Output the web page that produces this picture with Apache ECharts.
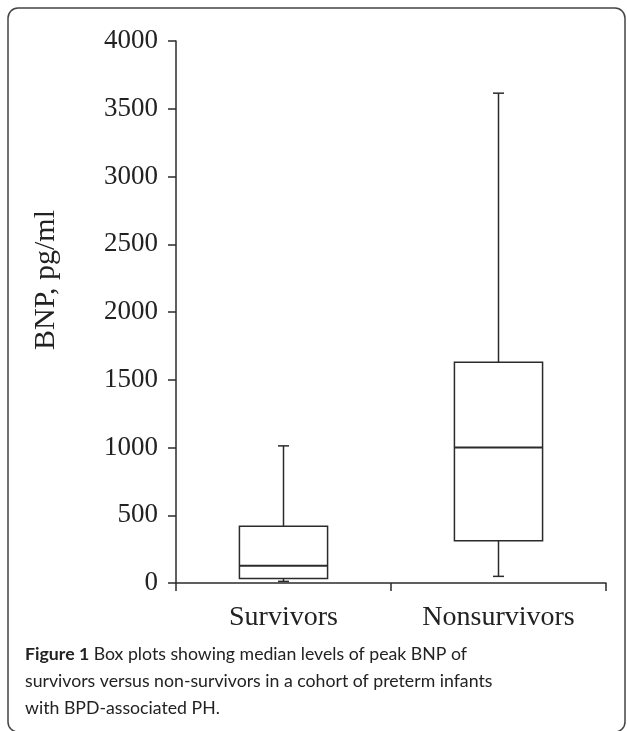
<!DOCTYPE html>
<html>
<head>
<meta charset="utf-8">
<script src="https://cdn.jsdelivr.net/npm/echarts@6/dist/echarts.min.js"></script>
<style>
  html, body { margin: 0; padding: 0; background: #fff; }
  #chart { width: 627px; height: 731px; }
</style>
</head>
<body>
<div id="chart"></div>
<script>
  // box plot values (pg/ml)
  var categories = ['Survivors', 'Nonsurvivors'];
  var minValues = [12, 49];
  var q1Values = [34, 312];
  var medianValues = [128, 1000];
  var q3Values = [418, 1630];
  var maxValues = [1012, 3615];

  var yMin = 0;
  var yMax = 4000;
  var yStep = 500;

  var ink = '#2b2b2b';
  var serif = '"Liberation Serif", "Times New Roman", serif';

  var boxData = categories.map(function (c, i) {
    return [i, minValues[i], q1Values[i], medianValues[i], q3Values[i], maxValues[i]];
  });

  function renderBox(params, api) {
    var idx = api.value(0);
    var pMin = api.coord([idx, api.value(1)]);
    var pQ1 = api.coord([idx, api.value(2)]);
    var pMed = api.coord([idx, api.value(3)]);
    var pQ3 = api.coord([idx, api.value(4)]);
    var pMax = api.coord([idx, api.value(5)]);
    var half = api.size([1, 0])[0] * 0.205;
    var cap = 5.5;
    var cx = pMed[0];
    var style = { stroke: ink, lineWidth: 1.5, fill: null };
    return {
      type: 'group',
      children: [
        { type: 'rect', shape: { x: cx - half, y: pQ3[1], width: half * 2, height: pQ1[1] - pQ3[1] }, style: { stroke: ink, lineWidth: 1.5, fill: '#fff' } },
        { type: 'line', shape: { x1: cx - half, y1: pMed[1], x2: cx + half, y2: pMed[1] }, style: { stroke: ink, lineWidth: 2 } },
        { type: 'line', shape: { x1: cx, y1: pQ3[1], x2: cx, y2: pMax[1] }, style: style },
        { type: 'line', shape: { x1: cx, y1: pQ1[1], x2: cx, y2: pMin[1] }, style: style },
        { type: 'line', shape: { x1: cx - cap, y1: pMax[1], x2: cx + cap, y2: pMax[1] }, style: style },
        { type: 'line', shape: { x1: cx - cap, y1: pMin[1], x2: cx + cap, y2: pMin[1] }, style: style }
      ]
    };
  }

  var chart = echarts.init(document.getElementById('chart'), null, { renderer: 'canvas' });

  chart.setOption({
    backgroundColor: '#fff',
    animation: false,
    grid: { left: 176, right: 21, top: 41, bottom: 148 },
    xAxis: {
      type: 'category',
      data: categories,
      boundaryGap: true,
      axisLine: { lineStyle: { color: ink, width: 1.5 } },
      axisTick: { show: true, length: 8, inside: false, lineStyle: { color: ink, width: 1.5 } },
      axisLabel: { margin: 21, color: '#222', fontFamily: serif, fontSize: 28 },
      splitLine: { show: false }
    },
    yAxis: {
      type: 'value',
      min: yMin,
      max: yMax,
      interval: yStep,
      axisLine: { show: true, lineStyle: { color: ink, width: 1.5 } },
      axisTick: { show: true, length: 8, inside: false, lineStyle: { color: ink, width: 1.5 } },
      axisLabel: {
        margin: 18,
        color: '#222',
        fontFamily: serif,
        fontSize: 27,
        formatter: function (v) { return String(v); }
      },
      splitLine: { show: false }
    },
    series: [{
      type: 'custom',
      renderItem: renderBox,
      encode: { x: 0, y: [1, 2, 3, 4, 5] },
      data: boxData
    }],
    graphic: [
      {
        type: 'rect',
        shape: { x: 8, y: 8, width: 617, height: 724, r: 10 },
        style: { fill: null, stroke: '#444', lineWidth: 1.5 },
        silent: true
      },
      {
        type: 'text',
        x: 46,
        y: 280,
        rotation: Math.PI / 2,
        style: {
          text: 'BNP, pg/ml',
          font: '30px ' + serif,
          fill: '#222',
          align: 'center',
          verticalAlign: 'middle'
        }
      },
      {
        type: 'text',
        left: 25,
        top: 641,
        style: {
          text: '{b|Figure 1} Box plots showing median levels of peak BNP of\nsurvivors versus non-survivors in a cohort of preterm infants\nwith BPD-associated PH.',
          fill: '#222',
          font: '17.7px Lato, sans-serif',
          lineHeight: 27,
          rich: {
            b: { fontWeight: 'bold', fontFamily: 'Lato, sans-serif', fontSize: 17.7, fill: '#222', lineHeight: 27 }
          }
        }
      }
    ]
  });
</script>
</body>
</html>
